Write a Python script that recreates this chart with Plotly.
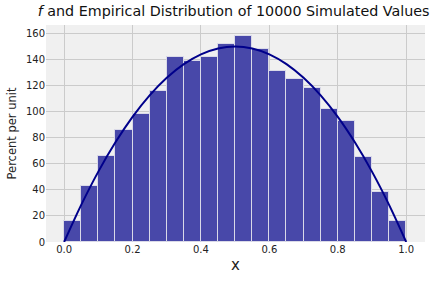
import plotly.graph_objects as go

# Histogram bins (left edges) and heights in percent per unit
bin_left = [0.00, 0.05, 0.10, 0.15, 0.20, 0.25, 0.30, 0.35, 0.40, 0.45,
            0.50, 0.55, 0.60, 0.65, 0.70, 0.75, 0.80, 0.85, 0.90, 0.95]
bin_width = 0.05
heights = [16, 43, 66, 86, 98, 116, 142, 139, 142, 152,
           158, 148, 131, 125, 118, 102, 93, 65, 38, 16]

# Density curve f (percent per unit)
curve_x = [0.00, 0.05, 0.10, 0.15, 0.20, 0.25, 0.30, 0.35, 0.40, 0.45, 0.50,
           0.55, 0.60, 0.65, 0.70, 0.75, 0.80, 0.85, 0.90, 0.95, 1.00]
curve_y = [0, 28.5, 54, 76.5, 96, 112.5, 126, 136.5, 144, 148.5, 150,
           148.5, 144, 136.5, 126, 112.5, 96, 76.5, 54, 28.5, 0]

x_ticks = [0.0, 0.2, 0.4, 0.6, 0.8, 1.0]
y_ticks = [0, 20, 40, 60, 80, 100, 120, 140, 160]

fig = go.Figure()
fig.add_trace(go.Bar(
    x=bin_left, y=heights, width=bin_width, offset=0,
    marker=dict(color="rgb(72,72,169)", line=dict(color="rgba(225,225,235,0.9)", width=1)),
    showlegend=False, hoverinfo="skip",
))
fig.add_trace(go.Scatter(
    x=curve_x, y=curve_y, mode="lines", line=dict(color="darkblue", width=2, shape="spline"),
    showlegend=False,
))

fig.update_layout(
    width=440, height=283,
    margin=dict(l=46, r=15, t=25, b=38),
    paper_bgcolor="white", plot_bgcolor="#f0f0f0",
    font=dict(family="DejaVu Sans", color="#222", size=10),
    title=dict(text="<i>f</i> and Empirical Distribution of 10000 Simulated Values",
               x=0.531, xanchor="center", y=0.962, yanchor="middle",
               font=dict(size=14.3, color="#111")),
    bargap=0,
)
fig.update_xaxes(range=[-0.053, 1.055], tickvals=x_ticks, tickformat=".1f",
                 showgrid=True, gridcolor="#cbcbcb", gridwidth=1, zeroline=False,
                 title=dict(text="x", font=dict(size=15), standoff=5),
                 ticks="", showline=False)
fig.update_yaxes(range=[0, 166.5], tickvals=y_ticks,
                 showgrid=True, gridcolor="#cbcbcb", gridwidth=1, zeroline=False,
                 title=dict(text="Percent per unit", font=dict(size=11.5), standoff=6),
                 ticks="", showline=False)

fig.write_html("out.html")
